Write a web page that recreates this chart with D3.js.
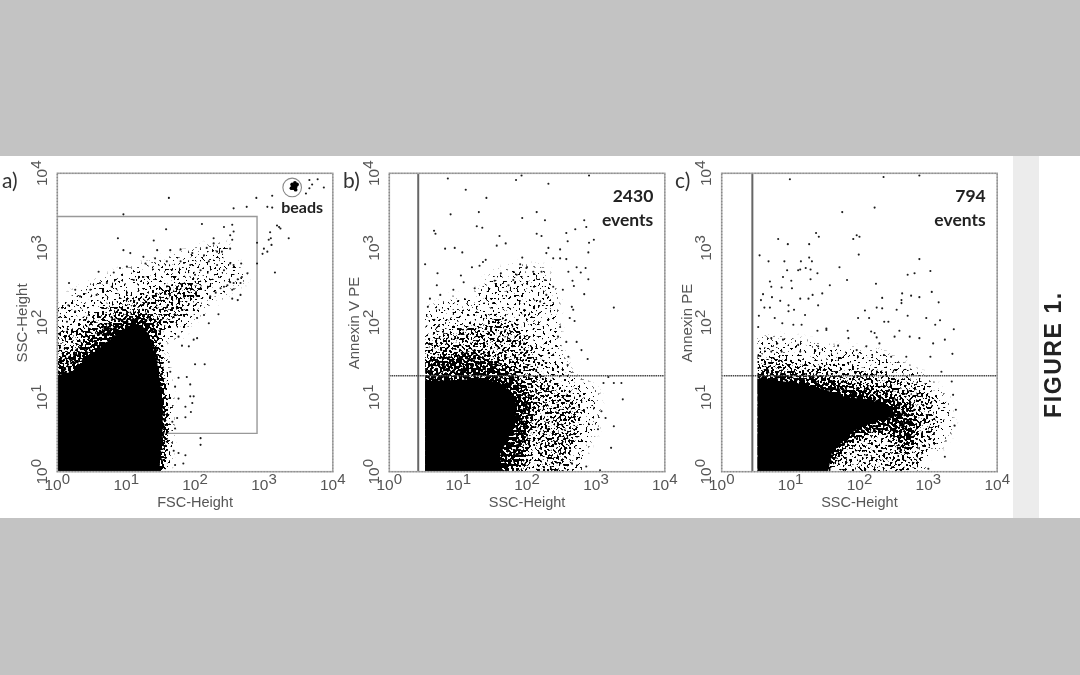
<!DOCTYPE html>
<html><head><meta charset="utf-8">
<script src="https://cdn.jsdelivr.net/npm/d3@7/dist/d3.min.js"></script>
<style>html,body{margin:0;padding:0;background:#c3c3c3}svg{display:block}</style>
</head><body><svg id="c" width="1080" height="675"></svg>
<script>
const tickExponents = [0,1,2,3,4];
const panelLetters = ["a)","b)","c)"];
const xTitles = ["FSC-Height","SSC-Height","SSC-Height"];
const yTitles = ["SSC-Height","Annexin V PE","Annexin PE"];
const eventNotes = [null,["2430","events"],["794","events"]];

// density contours of the regions too crowded to read single events
const solidA=[[-.2,-.2],[-.2,1.25],[.21,1.34],[.43,1.52],[.67,1.7],[.91,1.88],[1.11,1.99],[1.25,1.94],[1.37,1.72],[1.45,1.47],[1.49,1.21],[1.53,.94],[1.53,.58],[1.5,.27],[1.47,-.2]];
const heavyA=[[-.2,-.2],[-.2,1.5],[.2,1.6],[.45,1.78],[.7,1.97],[1,2.1],[1.3,2.1],[1.5,1.9],[1.52,1.6],[1.58,1.25],[1.62,.9],[1.62,.4],[1.55,-.2]];
const mediumA=[[-.2,1.3],[-.2,1.85],[.25,1.95],[.55,2.15],[.9,2.3],[1.3,2.42],[1.7,2.55],[2,2.6],[2.15,2.5],[1.95,2.25],[1.7,2],[1.5,1.9]];
const lightA=[[-.2,1.7],[-.2,2.2],[.3,2.42],[.7,2.6],[1.1,2.72],[1.6,2.85],[2,2.98],[2.45,3.05],[2.6,2.75],[2.75,2.6],[2.3,2.3],[1.95,2.05],[1.75,1.8],[1.5,1.8]];
const solidB=[[.3,-.2],[.3,1.21],[1.3,1.24],[1.6,1.2],[1.75,1.08],[1.85,.9],[1.83,.65],[1.7,.4],[1.6,.22],[1.68,-.2]];
const heavyB=[[.3,-.2],[.3,1.45],[.8,1.55],[1.1,1.6],[1.4,1.55],[1.7,1.4],[1.95,1.2],[2.1,.95],[2.05,.5],[1.95,.2],[1.9,-.2]];
const mediumB=[[.3,1.3],[.3,1.7],[.85,1.9],[1.2,1.98],[1.55,2.1],[1.85,2],[2.1,1.7],[2.25,1.3],[2.55,1.08],[2.8,.9],[2.75,.5],[2.6,.15],[2.45,-.2],[1.7,-.2]];
const lightB=[[.3,1.6],[.3,2.05],[.85,2.3],[1.25,2.35],[1.5,2.65],[1.85,2.75],[2.25,2.72],[2.42,2.4],[2.45,1.9],[2.5,1.55],[2.65,1.3],[3,1.1],[3.05,.7],[2.85,.3],[2.75,-.2],[2.2,-.2],[2.2,1]];
const solidC=[[.3,-.2],[.3,1.27],[1,1.2],[1.4,1.13],[1.8,1],[2.1,.97],[2.4,.9],[2.55,.75],[2.3,.7],[2,.6],[1.8,.45],[1.6,.25],[1.5,-.2]];
const heavyC=[[.3,.3],[.3,1.38],[1,1.32],[1.5,1.25],[2,1.15],[2.4,1.05],[2.7,.9],[2.85,.7],[2.8,.4],[2.6,.2],[2.5,.5],[2.2,.55],[1.8,.35],[1.6,.1],[1.5,0]];
const mediumC=[[.3,1.25],[.3,1.6],[1,1.5],[1.5,1.42],[2.2,1.35],[2.8,1.2],[3.05,1.02],[3.1,.65],[2.95,.2],[2.85,-.2],[1.5,-.2]];
const lightC=[[.3,1.45],[.3,1.8],[1,1.78],[1.6,1.65],[2.3,1.6],[2.9,1.3],[3.25,1],[3.35,.6],[3.1,.25],[2.8,.8],[2,1.2],[1.2,1.3]];
const densityLevels=[.17,.33,.6,1];

const eventsA=[[1.62,3.67],[.96,3.45],[2.89,3.67],[2.56,3.53],[2.75,3.55],[3.12,3.7],[2.1,3.32],[1.58,3.25],[.88,3.13],[1.4,3.1],[.96,2.97],[1.06,2.93],[.6,2.68],[.17,2.53],[.26,2.44],[.33,2.35],[2.54,3.31],[2.42,3.28],[3.22,3.28],[3.36,3.13],[3.16,2.67],[2.9,2.79],[2.9,3.07],[3.1,3.13],[3.05,2.95],[2.37,2.46],[2.42,2.48],[2.47,2.5],[2.51,2.54],[2.56,2.53],[2.62,2.58],[2.68,2.61],[2.76,2.66],[2.22,2.35],[2.3,2.4],[2.08,2.7],[2,2.64],[1.96,2.93],[1.79,2.98],[1.64,2.97],[1.45,2.97],[1.25,2.88],[1.28,2.79],[1.42,2.86],[1.59,2.82],[1.79,2.82],[1.93,2.77],[2.13,2.9],[2.17,3],[2.27,3.06],[2.32,2.95],[2.39,2.95],[2.51,2.99],[2.54,3.11],[2.56,3.22],[2.51,3.17],[2.27,3.13],[2.2,2.82],[2.51,2.79],[2.67,2.79],[2.42,2.7],[2.32,2.77],[2.56,2.77],[2.66,2.53],[2.54,2.44],[2.66,2.37],[2.54,2.32],[2.62,2.3],[2.34,2.11],[2.2,1.99],[2.13,2.1],[2.03,2.06],[1.98,1.77],[2.03,1.79],[1.91,1.68],[1.81,1.69],[1.76,1.81],[2,1.44],[2.14,1.44],[1.88,1.27],[1.76,1.26],[1.93,1.17],[1.71,1.14],[1.76,.98],[1.93,1.01],[1.98,1.01],[1.96,.92],[1.86,.87],[1.94,.8],[1.74,.72],[1.86,.73],[1.67,.67],[1.71,.58],[2.08,.45],[2.08,.36],[1.69,.28],[1.76,.25],[1.86,.22],[1.83,.11],[1.71,.09],[1.62,1.47],[1.64,1.34],[3.05,3.55],[3.12,3.54],[3.66,3.91],[3.78,3.92],[3.7,3.85],[3.66,3.8],[3.61,3.73],[3.87,3.81],[3.24,3.26],[3.19,3.3],[3.09,3.21],[3.07,3.11],[3.11,3.04],[3,2.99],[2.98,2.92],[.62,2.53],[.72,2.53],[.79,2.48],[.48,2.44],[.57,2.37],[.16,2.23],[.14,2.01],[.26,2.15],[.82,2.67],[.91,2.73],[1.01,2.75],[1.11,2.57],[1.25,2.61]];
const beadEvents=[[3.41,3.85],[3.45,3.87],[3.46,3.82],[3.43,3.8],[3.4,3.8],[3.48,3.85],[3.44,3.83],[3.42,3.83],[3.46,3.78]];
const eventsB=[[.85,3.93],[1.92,3.97],[1.84,3.91],[2.31,3.86],[2.9,3.97],[1.11,3.78],[1.41,3.67],[.89,3.45],[1.3,3.48],[1.93,3.4],[2.14,3.48],[2.26,3.37],[2.83,3.37],[2.86,3.28],[1.27,3.29],[1.35,3.27],[.65,3.23],[.67,3.19],[1.6,3.16],[1.56,3.03],[1.69,3.06],[2.14,3.19],[2.21,3.16],[2.57,3.2],[2.7,3.25],[2.59,3.09],[2.9,3.07],[2.97,3.11],[2.89,2.94],[.81,2.99],[.95,3],[1.06,2.94],[.52,2.78],[.7,2.66],[1.36,2.81],[1.4,2.84],[1.2,2.74],[1.31,2.76],[1.04,2.63],[1.08,2.54],[1.62,2.66],[1.53,2.56],[1.93,2.87],[1.9,2.78],[2.31,3],[2.48,2.98],[2.28,2.93],[2.38,2.86],[2.48,2.86],[2.57,2.85],[2.6,2.68],[2.72,2.74],[2.78,2.67],[2.85,2.73],[2.89,2.58],[2.66,2.56],[2.68,2.49],[2.83,2.38],[3.26,2.2],[2.65,2.21],[2.67,2.17],[2.62,2.06],[2.69,2.02],[2.48,1.94],[2.45,1.81],[2.57,1.74],[2.72,1.74],[2.79,1.63],[2.88,1.51],[2.6,1.54],[2.59,1.43],[3.11,1.19],[3.18,1.27],[3.26,1.19],[3.37,1.19],[3.39,.97],[3.08,.81],[3.03,.57],[3.26,.61],[3.22,.32],[3.14,.72],[3.06,.02],[2.86,.07],[2.65,.11],[1.8,2.57],[1.73,2.5],[1.85,2.64],[1.99,2.73],[2.09,2.68],[2.21,2.68],[2.26,2.57],[2.38,2.48],[2.52,2.44],[2.28,2.37],[2.19,2.28],[.59,2.32],[.74,2.37],[.93,2.44],[1.24,2.46],[.69,2.5],[.56,2.21]];
const eventsC=[[.99,3.92],[2.35,3.95],[2.87,3.97],[1.75,3.48],[2.22,3.54],[1.37,3.2],[1.41,3.15],[1.91,3.12],[1.96,3.17],[2,3.15],[.82,3.12],[.96,3.05],[1.27,3.05],[1.99,2.91],[.55,2.9],[.68,2.82],[.91,2.82],[1.27,2.87],[1.31,2.82],[1.15,2.82],[1.14,2.71],[1.11,2.7],[1.22,2.73],[1.29,2.71],[1.39,2.66],[.95,2.7],[.89,2.61],[1.01,2.56],[1.29,2.58],[1.71,2.74],[1.82,2.57],[1.57,2.5],[2.24,2.52],[.7,2.55],[.72,2.48],[1.02,2.46],[.87,2.47],[.6,2.38],[.73,2.34],[.57,2.3],[.62,2.2],[.7,2.2],[.85,2.29],[.97,2.23],[1.14,2.32],[1.26,2.32],[1.32,2.37],[1.46,2.39],[1.4,2.23],[.97,2.15],[1.05,2.17],[.77,2.06],[.54,2.09],[1.21,2.1],[.88,1.99],[1.04,1.97],[1.16,1.97],[.53,1.94],[1.52,1.92],[1.39,1.89],[1.98,2.06],[2.14,2.06],[2.36,2.01],[2.42,2.01],[2.08,2.16],[2.25,2.2],[2.33,2.33],[2.33,2.19],[2.54,2.17],[2.61,2.3],[2.61,2.26],[2.62,2.39],[2.75,2.36],[2.87,2.34],[2.7,2.09],[2.97,2.06],[3.1,1.97],[3.17,2.03],[3.37,1.91],[3.24,1.77],[3.35,1.58],[3.05,2.41],[3.15,2.27],[3.03,2.69],[2.8,2.66],[2.7,2.64],[2.87,2.85],[2.58,1.89],[2.17,1.88],[2.22,1.86],[1.83,1.89],[1.52,1.9],[1.84,1.79],[2.25,1.8],[2.51,1.81],[2.73,1.81],[2.87,1.79],[3.07,1.72],[3.03,1.54],[2.68,1.54],[2.46,1.54],[2.29,1.72],[2.1,1.68],[1.69,1.69],[1.96,1.63],[.56,1.55],[.72,1.61],[.87,1.61],[1.11,1.7],[1.14,1.61],[1.4,1.68],[.72,1.79],[.89,1.77],[3.24,.2],[3,.04],[3.36,1.03],[3.4,.83],[3.38,.62],[3.34,1.21],[3.19,1.34]];

const gateA=[[0,.514],[2.9,.514],[2.9,3.42],[0,3.42]];
const beadCircleCentre=[3.41,3.81];
const gateV=[.42,.445];
const gateH=1.287;
const cellEdge=[0,.52,.52];

const svg=d3.select("#c");
const defs=svg.append("defs");
defs.append("filter").attr("id","soft").attr("filterUnits","userSpaceOnUse").attr("x",0).attr("y",150).attr("width",1080).attr("height",375)
  .append("feGaussianBlur").attr("stdDeviation",.55);
// renders the density contours as grain: the denser the contour, the more of the grain is black
const sp=defs.append("filter").attr("id","speck").attr("filterUnits","userSpaceOnUse").attr("x",0).attr("y",150).attr("width",1080).attr("height",375)
  .attr("color-interpolation-filters","sRGB");
sp.append("feGaussianBlur").attr("in","SourceAlpha").attr("stdDeviation",3.5).attr("result","d");
sp.append("feTurbulence").attr("type","fractalNoise").attr("baseFrequency",.42).attr("numOctaves",1).attr("seed",7).attr("result","n");
sp.append("feColorMatrix").attr("in","n").attr("type","matrix").attr("values","0 0 0 0 0  0 0 0 0 0  0 0 0 0 0  3 0 0 0 -1").attr("result","na");
sp.append("feComposite").attr("in","d").attr("in2","na").attr("operator","arithmetic")
  .attr("k1",0).attr("k2",1).attr("k3",1).attr("k4",-1).attr("result","s");
sp.append("feComponentTransfer").attr("in","s").append("feFuncA").attr("type","linear").attr("slope",9);

svg.append("rect").attr("width",1080).attr("height",675).attr("fill","#c3c3c3");
svg.append("rect").attr("y",156).attr("width",1080).attr("height",362).attr("fill","#fff");
svg.append("rect").attr("x",1013).attr("y",156).attr("width",26).attr("height",362).attr("fill","#ececec");
const root=svg.append("g").attr("filter","url(#soft)");

const lefts=[57.3,389.3,721.7], plotW=275.5, plotTop=173.3, plotBottom=471.7;
const sets=[
 {solid:solidA,heavy:heavyA,medium:mediumA,light:lightA,events:eventsA},
 {solid:solidB,heavy:heavyB,medium:mediumB,light:lightB,events:eventsB},
 {solid:solidC,heavy:heavyC,medium:mediumC,light:lightC,events:eventsC}];
const FONT="'Liberation Sans',Arial,sans-serif", NOTE="Lato,'Open Sans',sans-serif";

function powerLabel(sel,e){
  sel.append("tspan").text("10");
  sel.append("tspan").attr("dy",-6).attr("font-size",15).text(e);
}
sets.forEach((s,i)=>{
  const L=lefts[i];
  const x=d3.scaleLog().domain([1,1e4]).range([L,L+plotW]);
  const y=d3.scaleLog().domain([1,1e4]).range([plotBottom,plotTop]);
  const X=d=>x(10**d), Y=d=>y(10**d);
  const g=root.append("g");
  const line=d3.line().x(d=>X(d[0])).y(d=>Y(d[1]));

  if(i===0) g.append("path").attr("d",line(gateA)).attr("fill","none").attr("stroke","#999").attr("stroke-width",1.4);

  defs.append("clipPath").attr("id","cl"+i).append("rect")
    .attr("x",X(cellEdge[i])).attr("y",plotTop).attr("width",L+plotW-X(cellEdge[i])).attr("height",plotBottom-plotTop);
  const clipG=g.append("g").attr("clip-path",`url(#cl${i})`);
  const dens=clipG.append("g").attr("filter","url(#speck)");
  dens.selectAll("path").data([s.light,s.medium,s.heavy,s.solid]).join("path")
    .attr("d",d=>line(d)+"Z").attr("fill","#000").attr("fill-opacity",(d,k)=>densityLevels[k]);
  clipG.append("path").attr("d",line(s.solid)+"Z").attr("fill","#000");

  g.selectAll("circle.ev").data(s.events).join("circle").attr("class","ev")
    .attr("cx",d=>X(d[0])).attr("cy",d=>Y(d[1])).attr("r",1.05).attr("fill","#1a1a1a");

  if(i===0){
    g.selectAll("circle.bead").data(beadEvents).join("circle").attr("class","bead")
      .attr("cx",d=>X(d[0])).attr("cy",d=>Y(d[1])).attr("r",1.9).attr("fill","#000");
    g.append("circle").attr("cx",X(beadCircleCentre[0])).attr("cy",Y(beadCircleCentre[1])).attr("r",9.3)
      .attr("fill","none").attr("stroke","#888").attr("stroke-width",1.1);
    g.append("text").attr("x",X(3.41)+10).attr("y",213).attr("text-anchor","middle")
      .attr("font-family",NOTE).attr("font-weight",700).attr("font-size",16).attr("fill","#222").text("beads");
  } else {
    g.append("line").attr("x1",X(gateV[i-1])).attr("x2",X(gateV[i-1])).attr("y1",plotTop).attr("y2",plotBottom)
      .attr("stroke","#666").attr("stroke-width",2);
    g.append("line").attr("x1",L).attr("x2",L+plotW).attr("y1",Y(gateH)).attr("y2",Y(gateH))
      .attr("stroke","#444").attr("stroke-width",1.4).attr("stroke-dasharray","1.5 .7");
    eventNotes[i].forEach((t,k)=>g.append("text").attr("x",L+plotW-11.5).attr("y",201.7+k*24.3)
      .attr("text-anchor","end").attr("font-family",NOTE).attr("font-weight",700).attr("font-size",17.5).attr("fill","#222").text(t));
  }

  // frame
  g.append("rect").attr("x",L).attr("y",plotTop).attr("width",plotW).attr("height",plotBottom-plotTop)
    .attr("fill","none").attr("stroke","#aaa").attr("stroke-width",1.6);
  g.append("rect").attr("x",L).attr("y",plotTop).attr("width",plotW).attr("height",plotBottom-plotTop)
    .attr("fill","none").attr("stroke","#888").attr("stroke-width",1.3).attr("stroke-dasharray","1 2");

  // tick labels
  tickExponents.forEach(e=>{
    const tx=g.append("text").attr("x",x(10**e)).attr("y",489.5).attr("text-anchor","middle")
      .attr("font-family",FONT).attr("font-size",15.5).attr("fill","#555");
    powerLabel(tx,e);
    const ty=g.append("text").attr("transform",`translate(${L-10.3},${y(10**e)}) rotate(-90)`).attr("text-anchor","middle")
      .attr("font-family",FONT).attr("font-size",15.5).attr("fill","#555");
    powerLabel(ty,e);
  });
  g.append("text").attr("x",L+plotW/2).attr("y",507).attr("text-anchor","middle")
    .attr("font-family",FONT).attr("font-size",14.5).attr("fill","#555").text(xTitles[i]);
  g.append("text").attr("transform",`translate(${L-30},323) rotate(-90)`).attr("text-anchor","middle")
    .attr("font-family",FONT).attr("font-size",15).attr("fill","#555").text(yTitles[i]);
  g.append("text").attr("x",[2,343,675][i]).attr("y",188)
    .attr("font-family",NOTE).attr("font-size",21).attr("fill","#333").text(panelLetters[i]);
});
root.append("text").attr("transform","translate(1061,418) rotate(-90)")
  .attr("font-family",FONT).attr("font-weight",700).attr("font-size",23).attr("letter-spacing",1.6).attr("fill","#222").text("FIGURE 1.");
</script></body></html>
